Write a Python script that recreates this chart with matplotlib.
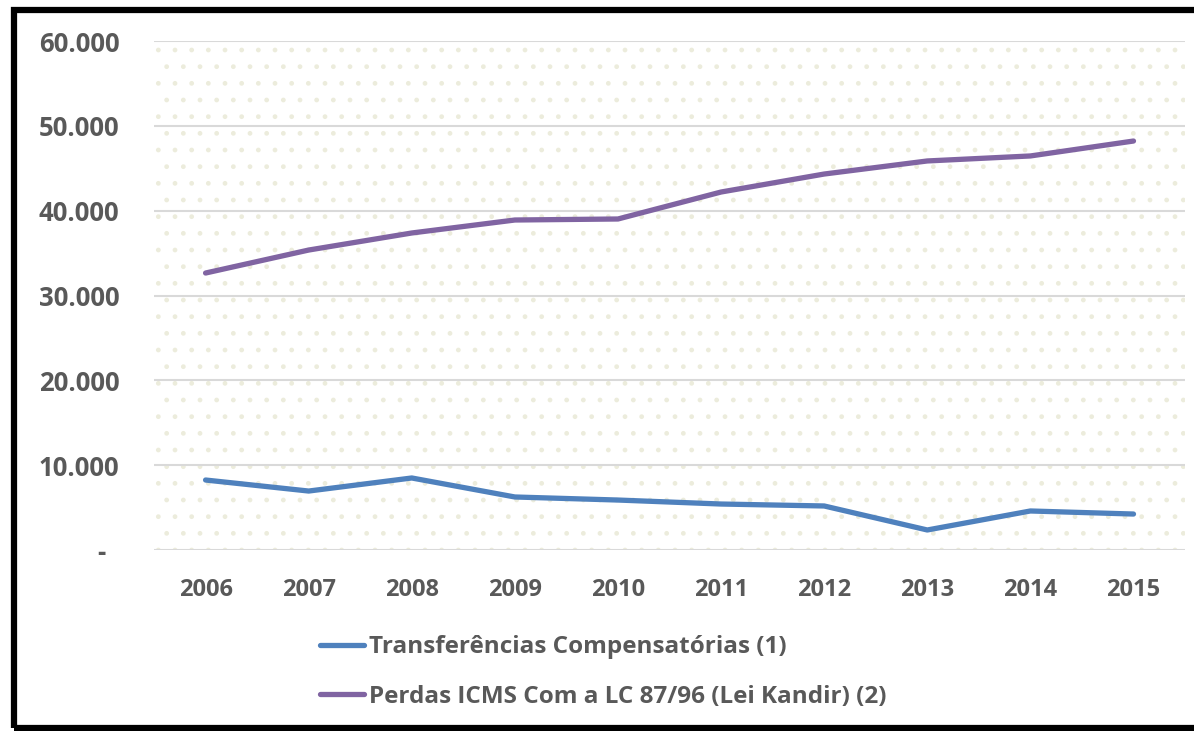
import matplotlib
matplotlib.use("Agg")
import matplotlib.pyplot as plt
from matplotlib.patches import Rectangle
from matplotlib.ticker import FuncFormatter

years = ["2006", "2007", "2008", "2009", "2010", "2011", "2012", "2013", "2014", "2015"]
transferencias = [8250, 6950, 8490, 6250, 5890, 5420, 5190, 2360, 4600, 4240]
perdas = [32650, 35360, 37370, 38900, 39020, 42200, 44320, 45860, 46450, 48210]
labels = ["Transferências Compensatórias (1)", "Perdas ICMS Com a LC 87/96 (Lei Kandir) (2)"]

plt.rcParams['font.family'] = ['Open Sans', 'DejaVu Sans']
plt.rcParams['hatch.linewidth'] = 1.0
txt = '#595959'

fig = plt.figure(figsize=(11.94, 7.31), dpi=100)
ax = fig.add_axes([0.129, 0.2476, 0.8635, 0.6963])

x = list(range(len(years)))
ax.add_patch(Rectangle((0, 0), 1, 1, transform=ax.transAxes, facecolor='none',
                       edgecolor='#ECECDC', hatch='.', lw=0, zorder=0))
l1, = ax.plot(x, transferencias, color='#4F81BD', lw=3.8, solid_capstyle='round', zorder=3)
l2, = ax.plot(x, perdas, color='#8064A2', lw=3.8, solid_capstyle='round', zorder=3)

ax.set_xlim(-0.5, len(years) - 0.5)
ax.set_ylim(0, 60000)
ax.set_yticks(range(0, 60001, 10000))
ax.yaxis.set_major_formatter(FuncFormatter(lambda v, p: '-  ' if v == 0 else f"{int(v):,}".replace(',', '.')))
ax.set_xticks(x)
ax.set_xticklabels(years)
ax.grid(axis='y', color='#D9D9D9', lw=1.5)
ax.set_axisbelow(True)
for s in ax.spines.values():
    s.set_visible(False)
ax.tick_params(length=0, labelcolor=txt)
ax.tick_params(axis='x', labelsize=17, pad=20)
ax.tick_params(axis='y', labelsize=18.5, pad=25)
for t in ax.get_xticklabels() + ax.get_yticklabels():
    t.set_fontweight('bold')

leg = fig.legend([l1, l2], labels, loc='upper left', bbox_to_anchor=(0.268, 0.131),
                 frameon=False, handlelength=1.8, handletextpad=0.2, labelspacing=1.05,
                 borderaxespad=0, borderpad=0, prop={'weight': 'bold', 'size': 17.5})
for t in leg.get_texts():
    t.set_color(txt)

fig.patches.append(Rectangle((0.012, 0.004), 1.2, 0.983, transform=fig.transFigure,
                             fill=False, edgecolor='black', lw=4.5, zorder=10))

fig.savefig('out.png', dpi=100)
